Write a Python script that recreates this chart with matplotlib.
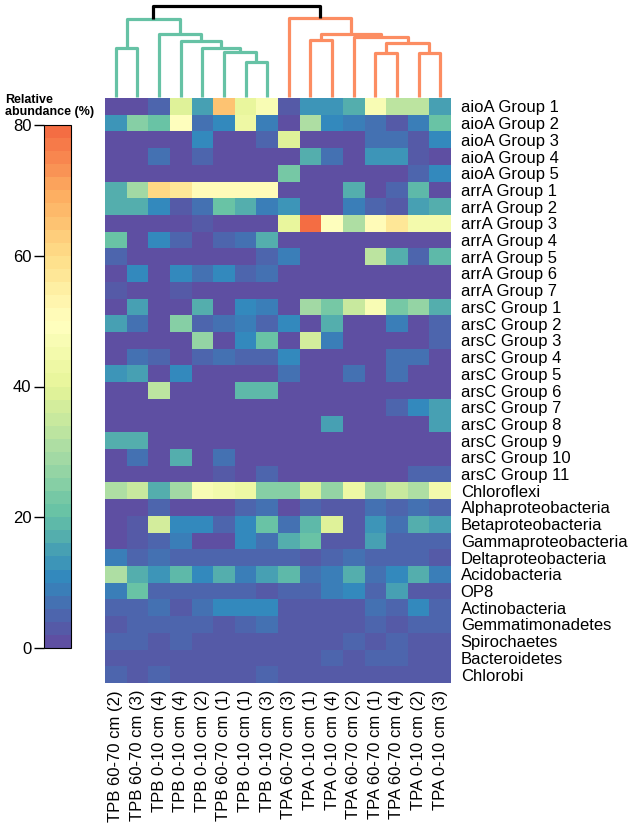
import numpy as np
import matplotlib
matplotlib.use("Agg")
import matplotlib.pyplot as plt
from matplotlib.colors import ListedColormap

plt.rcParams['font.family'] = ['Liberation Sans', 'DejaVu Sans']

# sample order (columns, as clustered)
samples = ["TPB 60-70 cm (2)", "TPB 60-70 cm (3)", "TPB 0-10 cm (4)", "TPB 0-10 cm (4)",
           "TPB 0-10 cm (2)", "TPB 60-70 cm (1)", "TPB 0-10 cm (1)", "TPB 0-10 cm (3)",
           "TPA 60-70 cm (3)", "TPA 0-10 cm (1)", "TPA 0-10 cm (4)", "TPA 60-70 cm (2)",
           "TPA 60-70 cm (1)", "TPA 60-70 cm (4)", "TPA 0-10 cm (2)", "TPA 0-10 cm (3)"]

taxa = ["aioA Group 1", "aioA Group 2", "aioA Group 3", "aioA Group 4", "aioA Group 5",
        "arrA Group 1", "arrA Group 2", "arrA Group 3", "arrA Group 4", "arrA Group 5",
        "arrA Group 6", "arrA Group 7",
        "arsC Group 1", "arsC Group 2", "arsC Group 3", "arsC Group 4", "arsC Group 5",
        "arsC Group 6", "arsC Group 7", "arsC Group 8", "arsC Group 9", "arsC Group 10",
        "arsC Group 11",
        "Chloroflexi", "Alphaproteobacteria", "Betaproteobacteria", "Gammaproteobacteria",
        "Deltaproteobacteria", "Acidobacteria", "OP8", "Actinobacteria",
        "Gemmatimonadetes", "Spirochaetes", "Bacteroidetes", "Chlorobi"]

# relative abundance (%), one row per taxon, one value per sample
abundance = [
    [1, 1, 4, 38, 14, 65, 40, 47, 3, 12, 12, 16, 46, 32, 32, 14],
    [13, 24, 21, 48, 7, 10, 43, 9, 1, 30, 10, 9, 6, 2, 8, 21],
    [1, 1, 1, 1, 10, 1, 1, 5, 38, 1, 1, 1, 7, 7, 2, 11],
    [1, 1, 6, 1, 4, 1, 1, 1, 1, 17, 7, 1, 13, 12, 2, 1],
    [1, 1, 1, 1, 1, 1, 1, 1, 22, 1, 1, 1, 1, 1, 5, 11],
    [17, 28, 60, 56, 50, 50, 50, 50, 1, 1, 1, 16, 1, 5, 19, 1],
    [17, 17, 10, 3, 7, 21, 16, 9, 12, 1, 1, 8, 5, 2, 15, 16],
    [1, 1, 1, 1, 3, 1, 1, 1, 40, 78, 49, 30, 50, 57, 45, 45],
    [21, 1, 11, 4, 1, 4, 7, 17, 1, 1, 1, 1, 1, 1, 1, 1],
    [5, 1, 1, 1, 1, 1, 1, 4, 9, 1, 1, 1, 33, 17, 5, 18],
    [1, 10, 1, 11, 6, 11, 5, 7, 1, 1, 1, 1, 1, 1, 1, 1],
    [3, 1, 1, 3, 1, 1, 1, 1, 1, 1, 1, 1, 1, 1, 1, 1],
    [1, 15, 1, 1, 16, 1, 11, 9, 1, 29, 23, 34, 46, 23, 27, 16],
    [14, 7, 1, 24, 5, 6, 9, 5, 10, 1, 16, 1, 1, 9, 1, 4],
    [1, 1, 1, 1, 26, 1, 11, 20, 1, 37, 9, 1, 1, 1, 1, 5],
    [1, 6, 5, 1, 5, 6, 4, 5, 11, 1, 1, 1, 1, 6, 6, 1],
    [12, 15, 1, 11, 1, 1, 1, 1, 7, 1, 1, 6, 1, 6, 1, 1],
    [1, 1, 32, 1, 1, 1, 18, 19, 1, 1, 1, 1, 1, 1, 1, 1],
    [1, 1, 1, 1, 1, 1, 1, 1, 1, 1, 1, 1, 1, 5, 11, 15],
    [1, 1, 1, 1, 1, 1, 1, 1, 1, 1, 15, 1, 1, 1, 1, 15],
    [16, 16, 1, 1, 1, 1, 1, 1, 1, 1, 1, 1, 1, 1, 1, 1],
    [1, 6, 1, 17, 1, 7, 1, 1, 1, 1, 1, 1, 1, 1, 1, 1],
    [1, 1, 1, 1, 1, 3, 1, 5, 1, 1, 1, 1, 1, 1, 4, 5],
    [30, 34, 17, 28, 46, 45, 43, 25, 25, 39, 27, 42, 28, 34, 31, 45],
    [1, 1, 4, 1, 1, 1, 5, 6, 1, 5, 2, 2, 6, 4, 7, 5],
    [1, 3, 37, 10, 10, 5, 10, 20, 7, 18, 38, 2, 12, 7, 17, 15],
    [1, 2, 5, 9, 1, 1, 10, 6, 17, 21, 2, 2, 14, 4, 5, 5],
    [8, 5, 7, 5, 5, 5, 4, 5, 5, 2, 5, 6, 4, 5, 5, 2],
    [30, 17, 12, 19, 10, 16, 9, 15, 18, 6, 9, 17, 7, 11, 17, 9],
    [8, 20, 4, 5, 5, 5, 4, 2, 5, 5, 8, 10, 5, 15, 2, 2],
    [5, 4, 7, 2, 7, 10, 10, 10, 2, 2, 2, 2, 7, 4, 10, 5],
    [2, 4, 4, 4, 4, 2, 4, 6, 2, 2, 2, 2, 4, 2, 4, 4],
    [5, 5, 2, 5, 2, 2, 2, 2, 2, 2, 2, 5, 2, 4, 2, 2],
    [2, 2, 2, 2, 2, 2, 2, 2, 2, 2, 5, 2, 5, 5, 2, 2],
    [5, 2, 4, 2, 2, 2, 2, 5, 2, 2, 2, 2, 2, 2, 2, 2],
]

# column dendrogram: (left node, right node, height); leaves are 0..15, merges get 16, 17, ...
merges = [
    (0, 1, 49.3), (6, 7, 35.3), (5, 17, 44.7), (4, 18, 49.3), (3, 19, 56.3),
    (2, 20, 62.7), (16, 21, 77.7),
    (9, 10, 57.0), (12, 13, 43.7), (14, 15, 44.3), (24, 25, 54.3), (11, 26, 59.7),
    (23, 27, 63.0), (8, 28, 78.7),
    (22, 29, 91.0),
]
merge_colors = ['g'] * 7 + ['o'] * 7 + ['k']
branch_col = {'g': '#66C2A5', 'o': '#FC8D62', 'k': 'black'}

W, H = 630, 833
def box(x0, y0, x1, y1):
    return [x0 / W, 1 - y1 / H, (x1 - x0) / W, (y1 - y0) / H]

fig = plt.figure(figsize=(W / 100, H / 100), dpi=100)

# heatmap
cmap = ListedColormap(plt.get_cmap('Spectral_r')(np.linspace(0, 0.8, 40)))
data = np.array(abundance)
ax = fig.add_axes(box(105, 98, 451, 683))
im = ax.pcolormesh(data, cmap=cmap, vmin=0, vmax=80)
ax.set_xlim(0, len(samples))
ax.set_ylim(len(taxa), 0)
ax.set_xticks(np.arange(len(samples)) + 0.5)
ax.set_xticklabels(samples, rotation=90, fontsize=12)
ax.set_yticks(np.arange(len(taxa)) + 0.5)
ax.set_yticklabels(taxa, fontsize=12)
ax.yaxis.tick_right()
ax.tick_params(axis='both', length=0)
ax.tick_params(axis='y', pad=7)
ax.tick_params(axis='x', pad=5)
for s in ax.spines.values():
    s.set_visible(False)

# dendrogram
dax = fig.add_axes(box(105, 4, 451, 97))
pos = {i: i + 0.5 for i in range(len(samples))}
hgt = {i: 0.0 for i in range(len(samples))}
for k, (a, b, h) in enumerate(merges):
    node = len(samples) + k
    c = branch_col[merge_colors[k]]
    dax.plot([pos[a], pos[a], pos[b], pos[b]], [hgt[a], h, h, hgt[b]],
             color=c, lw=2.3, solid_capstyle='butt', clip_on=False)
    pos[node] = (pos[a] + pos[b]) / 2
    hgt[node] = h
dax.set_xlim(0, len(samples))
dax.set_ylim(0, 93)
dax.axis('off')

# colour key
cax = fig.add_axes(box(44, 125, 71, 648))
cb = fig.colorbar(im, cax=cax, ticks=[0, 20, 40, 60, 80])
cax.yaxis.set_ticks_position('left')
cax.tick_params(length=7, width=1, labelsize=12, pad=2)
cb.outline.set_linewidth(0.8)
fig.text(5 / W, 1 - 94 / H, "Relative\nabundance (%)", fontsize=9,
         fontweight='bold', va='top', ha='left', linespacing=1.05)

fig.savefig("out.png", dpi=100)
